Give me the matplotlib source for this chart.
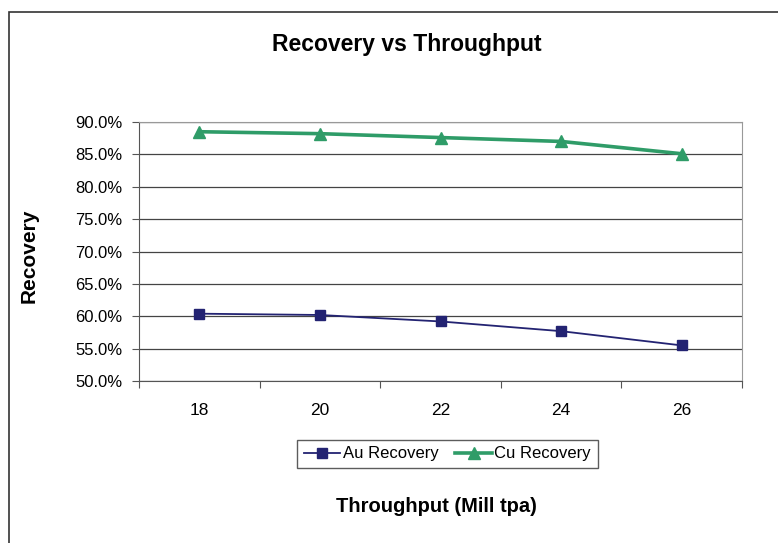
import matplotlib
matplotlib.use('Agg')
import matplotlib.pyplot as plt
from matplotlib.patches import Rectangle
from matplotlib.ticker import FuncFormatter

# chart values
throughput = [18, 20, 22, 24, 26]
au_recovery = [60.4, 60.2, 59.2, 57.7, 55.5]
cu_recovery = [88.5, 88.2, 87.6, 87.0, 85.1]
y_ticks = [50, 55, 60, 65, 70, 75, 80, 85, 90]

plt.rcParams['font.family'] = ['Liberation Sans', 'DejaVu Sans']

fig = plt.figure(figsize=(7.78, 5.43), dpi=100)
ax = fig.add_axes([0.1787, 0.2983, 0.775, 0.477])

# outer chart border (runs past right and bottom edges of the image)
fig.add_artist(Rectangle((0.0116, -0.2), 1.3, 0.978 + 0.2, transform=fig.transFigure,
                         fill=False, edgecolor='#333333', linewidth=1.2))

ax.plot(throughput, au_recovery, color='#232372', lw=1.3, marker='s', ms=7,
        label='Au Recovery')
ax.plot(throughput, cu_recovery, color='#2F9C68', lw=2.6, marker='^', ms=9,
        label='Cu Recovery')

ax.set_ylim(50, 90)
ax.set_yticks(y_ticks)
ax.yaxis.set_major_formatter(FuncFormatter(lambda v, p: '%.1f%%' % v))
ax.grid(axis='y', color='#444444', lw=0.9)
ax.set_axisbelow(True)

# category style x axis: ticks between categories, labels centred
ax.set_xlim(17, 27)
ax.set_xticks([17, 19, 21, 23, 25, 27])
ax.set_xticklabels([])
ax.set_xticks(throughput, minor=True)
ax.set_xticklabels([str(t) for t in throughput], minor=True)
ax.tick_params(axis='x', which='minor', length=0, pad=16, labelsize=12.5)
ax.tick_params(axis='x', which='major', length=5, color='#555555')
ax.tick_params(axis='y', length=5, color='#555555', labelsize=12, pad=7)

for side in ['top', 'right']:
    ax.spines[side].set_color('#999999')
for side in ['left', 'bottom']:
    ax.spines[side].set_color('#555555')

fig.text(0.523, 0.918, 'Recovery vs Throughput', ha='center', va='center',
         fontsize=16.5, fontweight='bold')
fig.text(0.037, 0.529, 'Recovery', ha='center', va='center', rotation=90,
         fontsize=15, fontweight='bold')
fig.text(0.561, 0.067, 'Throughput (Mill tpa)', ha='center', va='center',
         fontsize=14.5, fontweight='bold')

leg = fig.legend(loc='center', bbox_to_anchor=(0.575, 0.164), ncol=2,
                 frameon=True, fancybox=False, edgecolor='#333333',
                 fontsize=12, handlelength=2.2, columnspacing=1.0,
                 handletextpad=0.15, borderpad=0.4)
leg.get_frame().set_linewidth(1.0)

fig.savefig('out.png', dpi=100)
